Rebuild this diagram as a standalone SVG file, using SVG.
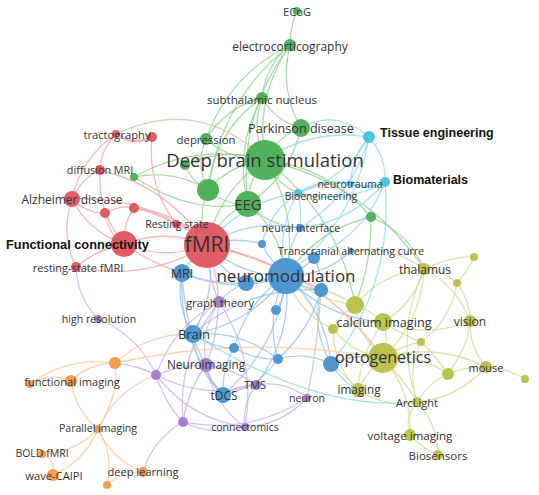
<svg xmlns="http://www.w3.org/2000/svg" width="539" height="495" viewBox="0 0 539 495">
<style>
.e path{fill:none;stroke-width:1.3;stroke-opacity:.75;stroke-linecap:round}
.e .g{stroke:#8fcf8f}.e .c{stroke:#8cd9ea}.e .b{stroke:#92bfe6}.e .r{stroke:#f0a2a7}
.e .p{stroke:#c7b0e4}.e .o{stroke:#f8c597}.e .y{stroke:#d6da92}.e .t{stroke:#dbb99d}
.e .w{stroke-width:2.8}
.ng circle{fill:#52b15b}.nc circle{fill:#4cc3dc}.nb circle{fill:#4f97d0}.nr circle{fill:#e25c66}
.np circle{fill:#a680cf}.no circle{fill:#f49b4d}.ny circle{fill:#bdc24f}
text{font-family:"Open Sans","DejaVu Sans",sans-serif;fill:#333;text-anchor:middle;dominant-baseline:central;font-size:11px}
text.bold{font-family:"Liberation Sans",Arial,sans-serif;font-weight:bold;fill:#111;text-anchor:start;font-size:12.5px}
</style>
<g id="connectors" class="e">
<path class="g" d="M297 11Q290 27 290 45"/>
<path class="g" d="M290 45Q254.5 97.5 265 160"/>
<path class="g" d="M290 45Q237 116 248 204"/>
<path class="g" d="M290 45Q279 89 301 128"/>
<path class="g" d="M290 45Q265 66 262 98"/>
<path class="g" d="M290 45Q229 75 206 139"/>
<path class="g" d="M290 45Q220 101 208 190"/>
<path class="g" d="M262 98Q251 130 265 160"/>
<path class="g" d="M262 98Q275.5 121 301 128"/>
<path class="g" d="M262 98Q226 107 206 139"/>
<path class="g" d="M262 98Q234 148 248 204"/>
<path class="g" d="M262 98Q215 130 208 190"/>
<path class="g" d="M301 128Q277 137 265 160"/>
<path class="g" d="M301 128Q290 177 248 204"/>
<path class="g" d="M206 139Q231 161 265 160"/>
<path class="g" d="M206 139Q195 165 208 190"/>
<path class="g" d="M265 160Q248 179 248 204"/>
<path class="g" d="M265 160Q230.5 164 208 190"/>
<path class="g" d="M265 160Q219 191 207 245"/>
<path class="g" d="M265 160Q299 214 286 276"/>
<path class="g" d="M265 160Q329 167 371 217"/>
<path class="g" d="M265 160Q275 183 298 193"/>
<path class="g" d="M248 204Q219 216 207 245"/>
<path class="g" d="M248 204Q281 232 286 276"/>
<path class="g" d="M248 204Q269 226 300 228"/>
<path class="g" d="M208 190Q196.5 217 207 245"/>
<path class="g" d="M208 190Q174 169 134 177"/>
<path class="g" d="M208 190Q225 205 248 204"/>
<path class="g" d="M134 177Q196 142 265 160"/>
<path class="g" d="M134 177Q190 215 248 204"/>
<path class="g" d="M185 165Q224 146.5 265 160"/>
<path class="g" d="M185 165Q191.5 182 208 190"/>
<path class="g" d="M371 217Q372 262 355 305"/>
<path class="g" d="M371 217Q408 232 424 269"/>
<path class="g" d="M371 217Q317 229.5 286 276"/>
<path class="g" d="M265 160Q366 183 424 269"/>
<path class="g" d="M265 160Q339 214.5 355 305"/>
<path class="t" d="M116 134Q200 95 265 160"/>
<path class="c" d="M301 128Q335 108 369 137"/>
<path class="c" d="M369 137Q386 156 385 182"/>
<path class="c" d="M369 137Q351 157 351 184"/>
<path class="c" d="M369 137Q345 179 298 193"/>
<path class="c" d="M369 137Q312 128 265 160"/>
<path class="c" d="M369 137Q355 223 286 276"/>
<path class="c" d="M369 137Q353 196 300 228"/>
<path class="c w" d="M385 182Q368 190 351 184"/>
<path class="c" d="M385 182Q344 205 298 193"/>
<path class="c w" d="M351 184Q323 178 298 193"/>
<path class="c" d="M385 182Q394 284 331 364"/>
<path class="c" d="M298 193Q275 232 286 276"/>
<path class="c" d="M298 193Q302 210 300 228"/>
<path class="c" d="M385 182Q352 222 300 228"/>
<path class="c" d="M385 182Q365 234 314 258"/>
<path class="c" d="M298 193Q242 201 207 245"/>
<path class="c" d="M298 193Q270 211 262 244"/>
<path class="b" d="M286 276Q240 276 207 245"/>
<path class="b" d="M286 276Q233 295 182 273"/>
<path class="b w" d="M286 276L246 283"/>
<path class="b" d="M286 276Q305 290 321 290"/>
<path class="b" d="M286 276Q286 296 276 310"/>
<path class="b" d="M286 276Q268 258 262 244"/>
<path class="b" d="M286 276Q287 250 300 228"/>
<path class="b" d="M286 276Q323.5 276.5 351 251"/>
<path class="b" d="M286 276Q303 270 314 258"/>
<path class="b" d="M286 276Q251 324 193 334"/>
<path class="b" d="M286 276Q278 348 223 395"/>
<path class="b" d="M286 276Q293 336 256 385"/>
<path class="b" d="M286 276Q326 311 331 364"/>
<path class="b" d="M286 276Q246 302 234 348"/>
<path class="b" d="M286 276Q265 316 278 359"/>
<path class="b" d="M286 276Q325 318 383 322"/>
<path class="b" d="M182 273Q192 256 207 245"/>
<path class="b" d="M182 273Q175 306 193 334"/>
<path class="b" d="M182 273Q178 342 223 395"/>
<path class="b" d="M182 273Q185 330 206 365"/>
<path class="b" d="M193 334Q213 348 234 348"/>
<path class="b" d="M193 334Q196 370 223 395"/>
<path class="b" d="M193 334Q218 292 207 245"/>
<path class="b" d="M193 334Q240 329.5 278 359"/>
<path class="b" d="M193 334Q248 286 321 290"/>
<path class="b" d="M223 395Q222 368 234 348"/>
<path class="b" d="M223 395Q258 388 278 359"/>
<path class="b" d="M278 359Q305.5 351 331 364"/>
<path class="b" d="M278 359Q310 330 321 290"/>
<path class="b" d="M246 283Q219 270 207 245"/>
<path class="b" d="M246 283Q230 289 219 302"/>
<path class="b" d="M246 283Q215 285 182 273"/>
<path class="b" d="M321 290Q311 329 331 364"/>
<path class="b" d="M262 244Q235 236 207 245"/>
<path class="b" d="M300 228Q250 218 207 245"/>
<path class="b" d="M314 258Q322 272 321 290"/>
<path class="b" d="M234 348Q255 360 278 359"/>
<path class="b" d="M331 364Q343 382 358 390"/>
<path class="b" d="M331 364Q360 352 383 358"/>
<path class="c" d="M193 334Q318.6 412.8 417 402"/>
<path class="y" d="M321 290Q340 294 355 305"/>
<path class="r w" d="M116 134Q134 146 152 137"/>
<path class="r" d="M116 134Q101 149 100 170"/>
<path class="r" d="M116 134Q81 158 72 199"/>
<path class="r" d="M152 137Q147 185 176 224"/>
<path class="r" d="M100 170Q82 178 72 199"/>
<path class="r" d="M100 170Q97 212 124 244"/>
<path class="r" d="M100 170Q168 186 207 245"/>
<path class="r" d="M72 199Q89 232 124 244"/>
<path class="r" d="M72 199Q60 234 76 267"/>
<path class="r" d="M72 199Q88 214 105 213"/>
<path class="r" d="M72 199Q149 195 207 245"/>
<path class="r" d="M105 213Q120 205 134 208"/>
<path class="r" d="M105 213Q108 234 124 244"/>
<path class="r" d="M134 208Q123 223 124 244"/>
<path class="r" d="M134 208Q178 212 207 245"/>
<path class="r" d="M134 208Q152 211 176 224"/>
<path class="r" d="M176 224Q194 228 207 245"/>
<path class="r" d="M124 244Q165 261 207 245"/>
<path class="r" d="M124 244Q166 228 207 245"/>
<path class="r" d="M124 244Q96 250 76 267"/>
<path class="r" d="M76 267Q146 282 207 245"/>
<path class="r" d="M124 244Q155 265 182 273"/>
<path class="r" d="M207 245Q318 266 383 358"/>
<path class="r" d="M207 245Q270 260 321 290"/>
<path class="p" d="M76 267Q77 297 98 319"/>
<path class="p" d="M219 302Q207 274 207 245"/>
<path class="p" d="M219 302Q200 331 206 365"/>
<path class="p" d="M219 302Q200 313 193 334"/>
<path class="p" d="M219 302Q173 326 156 375"/>
<path class="p" d="M219 302Q177 355 183 422"/>
<path class="p" d="M219 302Q257 359 245 427"/>
<path class="p" d="M206 365Q180 365 156 375"/>
<path class="p" d="M206 365Q233 368 256 385"/>
<path class="p" d="M206 365Q188 390 183 422"/>
<path class="p" d="M206 365Q213 404 245 427"/>
<path class="p" d="M206 365Q210 383 223 395"/>
<path class="p" d="M206 365Q230 305 207 245"/>
<path class="p" d="M156 375Q166 405 183 422"/>
<path class="p" d="M156 375Q190 419 245 427"/>
<path class="p" d="M156 375Q138 335 98 319"/>
<path class="p" d="M156 375Q204 400 256 385"/>
<path class="p" d="M156 375Q140 366 115 363"/>
<path class="p" d="M256 385Q285 380 307 398"/>
<path class="p" d="M256 385Q242 404 245 427"/>
<path class="p" d="M256 385Q238 385 223 395"/>
<path class="p" d="M183 422Q213 437 245 427"/>
<path class="p" d="M183 422Q153 439 143 472"/>
<path class="p" d="M245 427Q282 425 307 398"/>
<path class="p" d="M307 398Q250 435 183 422"/>
<path class="t" d="M307 398Q318 345 321 290"/>
<path class="o" d="M71 381Q50 372 30 384"/>
<path class="o" d="M71 381Q89 363 115 363"/>
<path class="o" d="M30 384Q68 356 115 363"/>
<path class="o" d="M115 363Q148 333 193 334"/>
<path class="o" d="M115 363Q249 334 383 358"/>
<path class="o" d="M71 381Q75 410 98 429"/>
<path class="o" d="M115 363Q120 393 98 429"/>
<path class="o" d="M98 429Q75 453 42 454"/>
<path class="o" d="M98 429Q85 461 53 475"/>
<path class="o" d="M98 429Q112 460 143 472"/>
<path class="o" d="M98 429Q114 455 107 485"/>
<path class="o" d="M98 429Q116 390 156 375"/>
<path class="o" d="M42 454Q56 460 53 475"/>
<path class="o" d="M143 472Q122 471 107 485"/>
<path class="y" d="M355 305Q370 310 383 322"/>
<path class="y" d="M355 305Q341 314 333 329"/>
<path class="y" d="M355 305Q358 337 383 358"/>
<path class="y" d="M355 305Q382 273 424 269"/>
<path class="y" d="M355 305Q318 300 286 276"/>
<path class="y" d="M383 322Q390 340 383 358"/>
<path class="y" d="M383 322Q403 335 421 342"/>
<path class="y" d="M383 322Q427 339 470 321"/>
<path class="y" d="M383 322Q414 304 424 269"/>
<path class="y" d="M383 322Q355 321 333 329"/>
<path class="y" d="M383 322Q360 355 358 390"/>
<path class="y" d="M333 329Q352 353 383 358"/>
<path class="y" d="M333 329Q333 365 358 390"/>
<path class="y" d="M333 329Q300 315 286 276"/>
<path class="y" d="M421 342Q403 345 383 358"/>
<path class="y" d="M421 342Q407 371 417 402"/>
<path class="y" d="M421 342Q436 356 448 374"/>
<path class="y" d="M421 342Q451 320 457 283"/>
<path class="y" d="M424 269Q442 270 457 283"/>
<path class="y" d="M424 269Q452 256 474 257"/>
<path class="y" d="M424 269Q457 286 470 321"/>
<path class="y" d="M424 269Q421 322 383 358"/>
<path class="y" d="M424 269Q394 334 417 402"/>
<path class="y" d="M424 269Q391 245 351 251"/>
<path class="y" d="M457 283Q470 268 474 257"/>
<path class="y" d="M457 283Q470 300 470 321"/>
<path class="y" d="M470 321Q470 343 448 374"/>
<path class="y" d="M470 321Q469 347 486 367"/>
<path class="y" d="M448 374Q467 366 486 367"/>
<path class="y" d="M486 367Q507 368 525 379"/>
<path class="y" d="M448 374Q419 353 383 358"/>
<path class="y" d="M448 374Q428 383 417 402"/>
<path class="y" d="M383 358Q368 370 358 390"/>
<path class="y" d="M383 358Q403 378 417 402"/>
<path class="y" d="M383 358Q436 342 486 367"/>
<path class="y" d="M383 358Q412 391 410 435"/>
<path class="y" d="M358 390Q385 408 417 402"/>
<path class="y" d="M358 390Q340 370 331 364"/>
<path class="y" d="M417 402Q404 418 410 435"/>
<path class="y" d="M417 402Q438 424 438 455"/>
<path class="y" d="M410 435Q423 449 438 455"/>
<path class="y" d="M417 402Q458 398 486 367"/>
</g>
<g id="n-g8" class="ng"><circle cx="208" cy="190" r="11"/></g>
<g id="n-g9" class="ng"><circle cx="134" cy="177" r="4"/></g>
<g id="n-g10" class="ng"><circle cx="371" cy="217" r="5"/></g>
<g id="n-g11" class="ng"><circle cx="185" cy="165" r="5"/></g>
<g id="n-b3" class="nb"><circle cx="246" cy="283" r="8"/></g>
<g id="n-b4" class="nb"><circle cx="321" cy="290" r="7"/></g>
<g id="n-b5" class="nb"><circle cx="276" cy="310" r="5"/></g>
<g id="n-b6" class="nb"><circle cx="262" cy="244" r="4"/></g>
<g id="n-b9" class="nb"><circle cx="314" cy="258" r="6"/></g>
<g id="n-b11" class="nb"><circle cx="234" cy="348" r="5"/></g>
<g id="n-b12" class="nb"><circle cx="278" cy="359" r="5"/></g>
<g id="n-b14" class="nb"><circle cx="331" cy="364" r="8"/></g>
<g id="n-r6" class="nr"><circle cx="105" cy="213" r="5"/></g>
<g id="n-r7" class="nr"><circle cx="134" cy="208" r="5"/></g>
<g id="n-r10" class="nr"><circle cx="152" cy="137" r="5"/></g>
<g id="n-p4" class="np"><circle cx="156" cy="375" r="5"/></g>
<g id="n-p6" class="np"><circle cx="183" cy="422" r="5"/></g>
<g id="n-o1" class="no"><circle cx="115" cy="363" r="6"/></g>
<g id="n-o3" class="no"><circle cx="30" cy="384" r="4"/></g>
<g id="n-o8" class="no"><circle cx="107" cy="485" r="4"/></g>
<g id="n-y1" class="ny"><circle cx="355" cy="305" r="9"/></g>
<g id="n-y3" class="ny"><circle cx="333" cy="329" r="5"/></g>
<g id="n-y4" class="ny"><circle cx="421" cy="342" r="4"/></g>
<g id="n-y6" class="ny"><circle cx="457" cy="283" r="4"/></g>
<g id="n-y7" class="ny"><circle cx="474" cy="257" r="4"/></g>
<g id="n-y10" class="ny"><circle cx="448" cy="374" r="6"/></g>
<g id="n-y12" class="ny"><circle cx="525" cy="379" r="4"/></g>
<g id="n-fmri" class="nr"><circle cx="207" cy="245" r="23"/><text x="207" y="244" style="font-size:21px">fMRI</text></g>
<g id="n-dbs" class="ng"><circle cx="265" cy="160" r="20"/><text x="265" y="159" style="font-size:18.5px">Deep brain stimulation</text></g>
<g id="n-neuromodulation" class="nb"><circle cx="286" cy="276" r="18"/><text x="286" y="275" style="font-size:17px">neuromodulation</text></g>
<g id="n-optogenetics" class="ny"><circle cx="383" cy="358" r="15"/><text x="383" y="357" style="font-size:16px">optogenetics</text></g>
<g id="n-eeg" class="ng"><circle cx="248" cy="204" r="13"/><text x="248" y="204" style="font-size:15px">EEG</text></g>
<g id="n-fc" class="nr"><circle cx="124" cy="244" r="13"/><text class="bold" x="6" y="244" style="font-size:12.8px">Functional connectivity</text></g>
<g id="n-parkinson" class="ng"><circle cx="301" cy="128" r="9"/><text x="301" y="128" style="font-size:12.6px">Parkinson disease</text></g>
<g id="n-calcium" class="ny"><circle cx="383" cy="322" r="9"/><text x="384" y="322" style="font-size:12.7px">calcium imaging</text></g>
<g id="n-mri" class="nb"><circle cx="182" cy="273" r="9"/><text x="182" y="273" style="font-size:12.6px">MRI</text></g>
<g id="n-brain" class="nb"><circle cx="193" cy="334" r="9"/><text x="194" y="334" style="font-size:13px">Brain</text></g>
<g id="n-alzheimer" class="nr"><circle cx="72" cy="199" r="8"/><text x="72" y="199" style="font-size:12px">Alzheimer disease</text></g>
<g id="n-tdcs" class="nb"><circle cx="223" cy="395" r="8"/><text x="224" y="395" style="font-size:12px">tDCS</text></g>
<g id="n-neuroimaging" class="np"><circle cx="206" cy="365" r="7"/><text x="206" y="364" style="font-size:11.8px">Neuroimaging</text></g>
<g id="n-imaging" class="ny"><circle cx="358" cy="390" r="7"/><text x="359" y="389" style="font-size:11.7px">imaging</text></g>
<g id="n-tissue" class="nc"><circle cx="369" cy="137" r="6"/><text class="bold" x="380" y="133">Tissue engineering</text></g>
<g id="n-biomaterials" class="nc"><circle cx="385" cy="182" r="5"/><text class="bold" x="393" y="180">Biomaterials</text></g>
<g id="n-electrocorticography" class="ng"><circle cx="290" cy="45" r="6"/><text x="290" y="46" style="font-size:12px">electrocorticography</text></g>
<g id="n-subthalamic" class="ng"><circle cx="262" cy="98" r="6"/><text x="262" y="99" style="font-size:11.5px">subthalamic nucleus</text></g>
<g id="n-depression" class="ng"><circle cx="206" cy="139" r="6"/><text x="206" y="139" style="font-size:11.4px">depression</text></g>
<g id="n-thalamus" class="ny"><circle cx="424" cy="269" r="6"/><text x="425" y="269" style="font-size:12px">thalamus</text></g>
<g id="n-vision" class="ny"><circle cx="470" cy="321" r="6"/><text x="470" y="321" style="font-size:12px">vision</text></g>
<g id="n-mouse" class="ny"><circle cx="486" cy="367" r="6"/><text x="486" y="367" style="font-size:11px">mouse</text></g>
<g id="n-functional-imaging" class="no"><circle cx="71" cy="381" r="6"/><text x="72" y="381" style="font-size:11.1px">functional imaging</text></g>
<g id="n-wave-caipi" class="no"><circle cx="53" cy="475" r="6"/><text x="54" y="475" style="font-size:11.2px">wave-CAIPI</text></g>
<g id="n-voltage-imaging" class="ny"><circle cx="410" cy="435" r="6"/><text x="410" y="435" style="font-size:11.6px">voltage imaging</text></g>
<g id="n-graph-theory" class="np"><circle cx="219" cy="302" r="6"/><text x="220" y="302" style="font-size:11.3px">graph theory</text></g>
<g id="n-ecog" class="ng"><circle cx="297" cy="11" r="4"/><text x="297" y="11" style="font-size:11.2px">ECoG</text></g>
<g id="n-resting-state" class="nr"><circle cx="176" cy="224" r="4"/><text x="177" y="224" style="font-size:10.6px">Resting state</text></g>
<g id="n-rs-fmri" class="nr"><circle cx="76" cy="267" r="5"/><text x="78" y="267" style="font-size:11px">resting-state fMRI</text></g>
<g id="n-diffusion" class="nr"><circle cx="100" cy="170" r="5"/><text x="100" y="169" style="font-size:10.8px">diffusion MRI</text></g>
<g id="n-tractography" class="nr"><circle cx="116" cy="134" r="4"/><text x="117" y="134" style="font-size:11.2px">tractography</text></g>
<g id="n-high-resolution" class="np"><circle cx="98" cy="319" r="4"/><text x="99" y="319" style="font-size:10.6px">high resolution</text></g>
<g id="n-tms" class="np"><circle cx="256" cy="385" r="5"/><text x="255" y="384" style="font-size:11px">TMS</text></g>
<g id="n-connectomics" class="np"><circle cx="245" cy="427" r="4"/><text x="245" y="427" style="font-size:10.5px">connectomics</text></g>
<g id="n-neuron" class="np"><circle cx="307" cy="398" r="4"/><text x="307" y="398" style="font-size:10.6px">neuron</text></g>
<g id="n-parallel" class="no"><circle cx="98" cy="429" r="4"/><text x="98" y="428" style="font-size:10.6px">Parallel imaging</text></g>
<g id="n-bold" class="no"><circle cx="42" cy="454" r="4"/><text x="42" y="453" style="font-size:10.5px">BOLD fMRI</text></g>
<g id="n-deep-learning" class="no"><circle cx="143" cy="472" r="5"/><text x="143" y="471" style="font-size:11.1px">deep learning</text></g>
<g id="n-arclight" class="ny"><circle cx="417" cy="402" r="5"/><text x="417" y="402" style="font-size:11px">ArcLight</text></g>
<g id="n-biosensors" class="ny"><circle cx="438" cy="455" r="5"/><text x="438" y="455" style="font-size:11.5px">Biosensors</text></g>
<g id="n-neurotrauma" class="nc"><circle cx="351" cy="184" r="3"/><text x="350" y="184" style="font-size:10.5px">neurotrauma</text></g>
<g id="n-bioengineering" class="nc"><circle cx="298" cy="193" r="4"/><text x="321" y="196" style="font-size:10.3px">Bioengineering</text></g>
<g id="n-neural-interface" class="nb"><circle cx="300" cy="228" r="4"/><text x="301" y="228" style="font-size:10.6px">neural interface</text></g>
<g id="n-tacs" class="nb"><circle cx="351" cy="251" r="3"/><text x="351" y="251" style="font-size:10.6px">Transcranial alternating curre</text></g>
</svg>
